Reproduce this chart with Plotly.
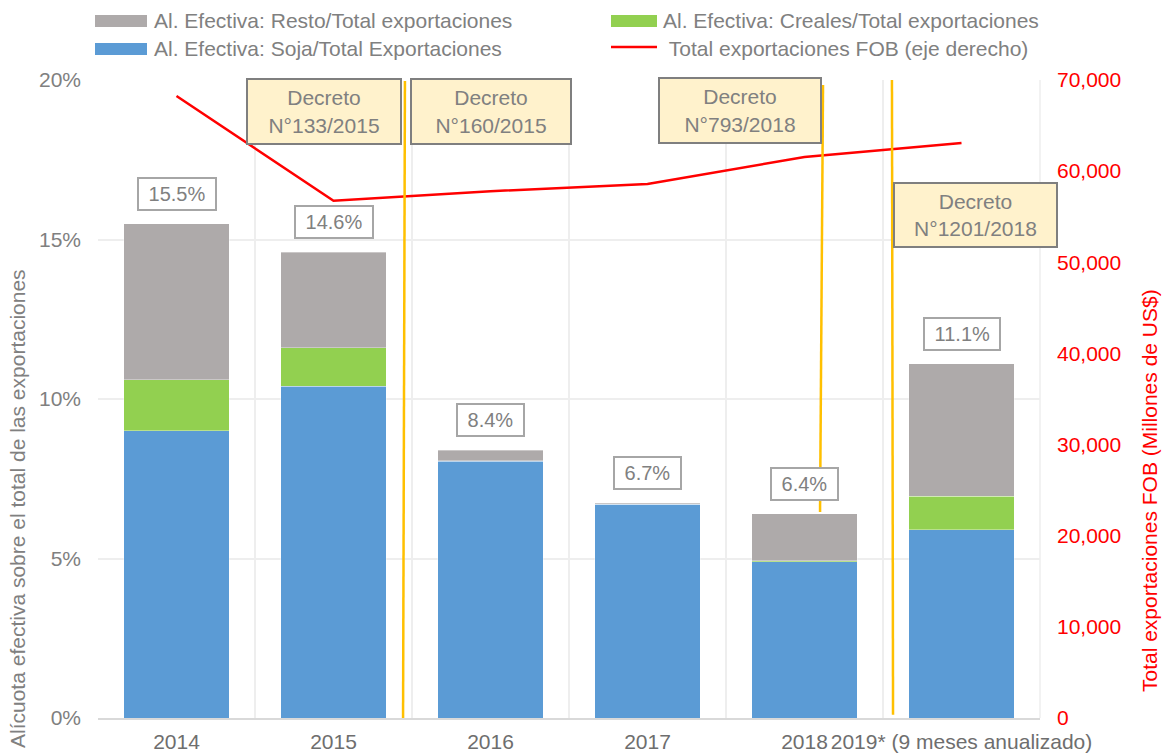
import plotly.graph_objects as go

# ---------------- data ----------------
categories = ["2014", "2015", "2016", "2017", "2018", "2019* (9 meses anualizado)"]
soja = [9.0, 10.4, 8.05, 6.7, 4.9, 5.9]          # % of total exports
cereales = [1.6, 1.2, 0.02, 0.0, 0.03, 1.05]     # %
resto = [4.9, 3.0, 0.33, 0.03, 1.47, 4.15]       # %
export_fob = [68250, 56750, 57800, 58600, 61550, 63100]  # millones US$

decretos = ["Decreto<br>N°133/2015", "Decreto<br>N°160/2015",
            "Decreto<br>N°793/2018", "Decreto<br>N°1201/2018"]

y_ticks = [0, 5, 10, 15, 20]
y2_ticks = [0, 10000, 20000, 30000, 40000, 50000, 60000, 70000]

# ---------------- layout constants ----------------
W, H = 1162, 753
ML, MR, MT, MB = 98, 122, 80, 35
PW, PH = W - ML - MR, H - MT - MB
FONT = "Liberation Sans, Arial, sans-serif"
GRAY_TXT = "#808080"
C_SOJA, C_CER, C_RESTO, C_RED, C_YEL = "#5B9BD5", "#92D050", "#AEAAAA", "#FF0000", "#FFC000"


def px(xpix):
    return (xpix - ML) / PW


def py(ypix):
    return (MT + PH - ypix) / PH


fig = go.Figure()
bar_line = dict(color="rgba(255,255,255,0.35)", width=1)
fig.add_trace(go.Bar(x=categories, y=soja, name="Al. Efectiva: Soja/Total Exportaciones",
                     marker=dict(color=C_SOJA, line=bar_line), showlegend=False))
fig.add_trace(go.Bar(x=categories, y=cereales, name="Al. Efectiva: Creales/Total exportaciones",
                     marker=dict(color=C_CER, line=bar_line), showlegend=False))
fig.add_trace(go.Bar(x=categories, y=resto, name="Al. Efectiva: Resto/Total exportaciones",
                     marker=dict(color=C_RESTO, line=bar_line), showlegend=False))
fig.add_trace(go.Scatter(x=categories, y=export_fob, yaxis="y2", mode="lines",
                         name="Total exportaciones FOB (eje derecho)",
                         line=dict(color=C_RED, width=2.5), showlegend=False))

annotations = []
# total value labels
for i, (a, b, r) in enumerate(zip(soja, cereales, resto)):
    tot = a + b + r
    annotations.append(dict(
        x=i, y=tot, xref="x", yref="y", yanchor="bottom", yshift=13,
        text="\u00a0%.1f%%\u00a0" % tot, showarrow=False,
        font=dict(family=FONT, size=20, color=GRAY_TXT),
        bgcolor="white", bordercolor="#A6A6A6", borderwidth=2, borderpad=4))

# decree boxes
dec_pos = [(0.9395, 19.01, 152, 63), (2.003, 19.01, 158, 63),
           (3.589, 19.04, 160, 63), (5.089, 15.77, 161, 62)]
for t, (xx, yy, ww, hh) in zip(decretos, dec_pos):
    annotations.append(dict(
        x=xx, y=yy, xref="x", yref="y", text=t, showarrow=False,
        font=dict(family=FONT, size=21, color=GRAY_TXT),
        bgcolor="#FFF2CC", bordercolor="#7F7F7F", borderwidth=2, borderpad=0,
        width=ww, height=hh, align="center"))

# axis titles
annotations.append(dict(
    x=px(17), y=py(509), xref="paper", yref="paper", textangle=-90, showarrow=False,
    xanchor="center", yanchor="middle",
    text="Alícuota efectiva sobre el total de las exportaciones",
    font=dict(family=FONT, size=21, color=GRAY_TXT)))
annotations.append(dict(
    x=px(1149), y=py(491), xref="paper", yref="paper", textangle=-90, showarrow=False,
    xanchor="center", yanchor="middle",
    text="Total exportaciones FOB (Millones de US$)",
    font=dict(family=FONT, size=21, color=C_RED)))

# manual legend
leg = [
    (95, 52, 21, "rect", C_RESTO, "Al. Efectiva: Resto/Total exportaciones", 152),
    (611, 46, 21, "rect", C_CER, "Al. Efectiva: Creales/Total exportaciones", 661),
    (95, 52, 49, "rect", C_SOJA, "Al. Efectiva: Soja/Total Exportaciones", 152),
    (611, 46, 49, "line", C_RED, "\u00a0Total exportaciones FOB (eje derecho)", 661),
]
shapes = []
for x0, sw, yc, kind, col, txt, tx in leg:
    if kind == "rect":
        shapes.append(dict(type="rect", xref="paper", yref="paper",
                           x0=px(x0), x1=px(x0 + sw), y0=py(yc + 6), y1=py(yc - 6),
                           fillcolor=col, line=dict(width=0)))
    else:
        shapes.append(dict(type="line", xref="paper", yref="paper",
                           x0=px(x0), x1=px(x0 + sw), y0=py(yc - 2), y1=py(yc - 2),
                           line=dict(color=col, width=2.5)))
    annotations.append(dict(x=px(tx), y=py(yc), xref="paper", yref="paper",
                            xanchor="left", yanchor="middle", showarrow=False,
                            text=txt, font=dict(family=FONT, size=21, color=GRAY_TXT)))

# decree vertical lines
for x0, y0, x1, y1 in [(1.443, 0, 1.455, 19.97), (4.099, 6.46, 4.118, 19.84), (4.564, 0.1, 4.557, 20.0)]:
    shapes.append(dict(type="line", xref="x", yref="y", x0=x0, y0=y0, x1=x1, y1=y1,
                       line=dict(color=C_YEL, width=2.5), layer="above"))

# right frame line of the plot area
shapes.append(dict(type="line", xref="paper", yref="paper", x0=1, x1=1, y0=0, y1=1,
                   line=dict(color="#EEEEEE", width=1.5), layer="below"))

fig.update_layout(
    width=W, height=H, barmode="stack", bargap=0.325,
    margin=dict(l=ML, r=MR, t=MT, b=MB, autoexpand=False),
    paper_bgcolor="white", plot_bgcolor="white",
    font=dict(family=FONT, size=21, color=GRAY_TXT),
    annotations=annotations, shapes=shapes, showlegend=False,
    xaxis=dict(type="category", tickangle=0, tickson="boundaries", showgrid=True,
               gridcolor="#EEEEEE", gridwidth=1.5, showline=True, linecolor="#D9D9D9",
               linewidth=2, ticks="", ticklabelstandoff=4, automargin=False,
               tickfont=dict(family=FONT, size=21, color="#6E6E6E"),
               range=[-0.5, 5.5]),
    yaxis=dict(range=[0, 20], tickvals=y_ticks, ticktext=["%d%%" % v for v in y_ticks],
               showgrid=True, gridcolor="#EEEEEE", gridwidth=1.5, zeroline=False,
               ticks="", ticklabelstandoff=16, automargin=False,
               tickfont=dict(family=FONT, size=21, color=GRAY_TXT)),
    yaxis2=dict(range=[0, 70000], overlaying="y", side="right", tickvals=y2_ticks,
                tickformat=",", showgrid=False, zeroline=False, ticks="",
                ticklabelstandoff=16, automargin=False,
                tickfont=dict(family=FONT, size=21, color=C_RED)),
)

fig.write_html("out.html", config={"displayModeBar": False},
               post_script="document.body.style.margin='0';document.body.style.overflow='hidden';")
